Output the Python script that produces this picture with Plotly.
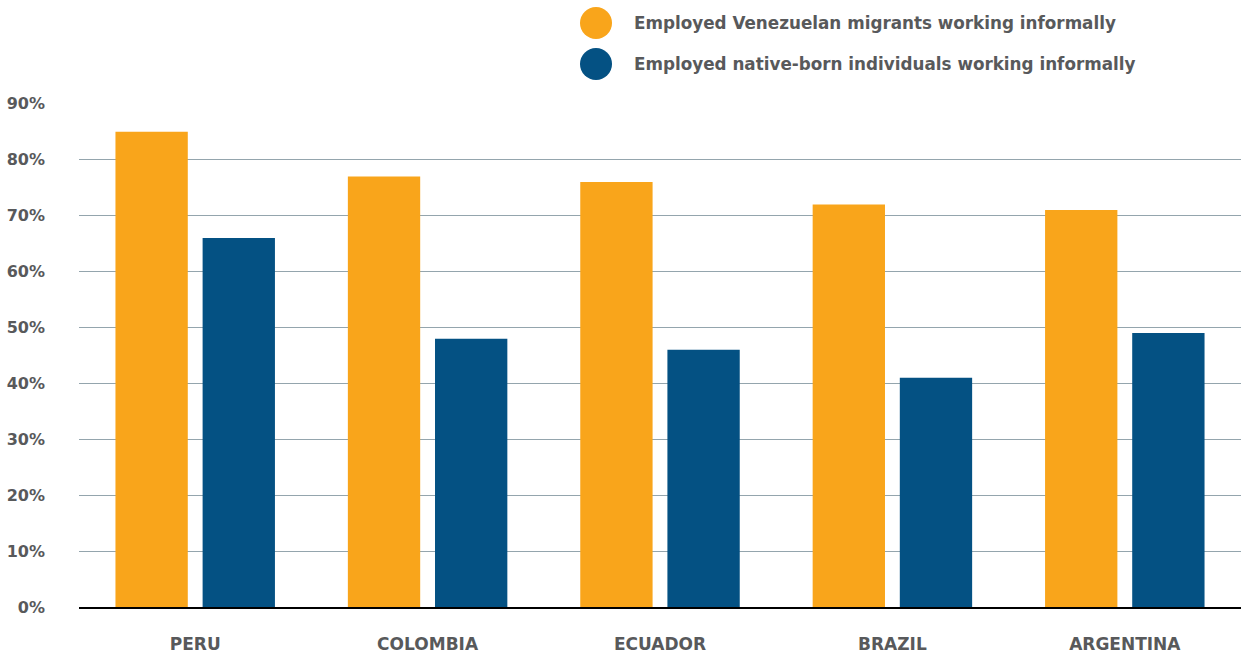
import plotly.graph_objects as go

countries = ["PERU", "COLOMBIA", "ECUADOR", "BRAZIL", "ARGENTINA"]
migrants = [85, 77, 76, 72, 71]
natives = [66, 48, 46, 41, 49]
series_names = ["Employed Venezuelan migrants working informally",
                "Employed native-born individuals working informally"]
colors = ["#F9A51B", "#045183"]
y_ticks = [0, 10, 20, 30, 40, 50, 60, 70, 80, 90]
y_labels = [f"{v}%" for v in y_ticks]

W, H = 1241, 656
FONT = "DejaVu Sans"
TXT = "#58595b"

fig = go.Figure()
fig.add_trace(go.Bar(x=countries, y=migrants, name=series_names[0],
                     marker=dict(color=colors[0], line=dict(width=0)), showlegend=False))
fig.add_trace(go.Bar(x=countries, y=natives, name=series_names[1],
                     marker=dict(color=colors[1], line=dict(width=0)), showlegend=False))

m_l, m_r, m_t, m_b = 79, 0, 103, 49
pw = W - m_l - m_r
ph = H - m_t - m_b

# legend drawn as circles + text
leg_y = [23, 64]
for i, name in enumerate(series_names):
    yp = 1 + (m_t - leg_y[i]) / ph
    xp = (596 - m_l) / pw
    fig.add_shape(type="circle", xref="paper", yref="paper",
                  xsizemode="pixel", ysizemode="pixel",
                  xanchor=xp, yanchor=yp, x0=-16, x1=16, y0=-16, y1=16,
                  fillcolor=colors[i], line=dict(width=0))
    fig.add_annotation(xref="paper", yref="paper", x=(632 - m_l) / pw, y=yp,
                       xanchor="left", yanchor="middle", showarrow=False,
                       text="<b>" + name + "</b>",
                       font=dict(family=FONT, size=16.8, color=TXT))

fig.update_layout(
    width=W, height=H,
    margin=dict(l=m_l, r=m_r, t=m_t, b=m_b),
    plot_bgcolor="white", paper_bgcolor="white",
    barmode="group", bargap=0.25, bargroupgap=0.17,
    font=dict(family=FONT, color=TXT),
)
fig.update_xaxes(tickfont=dict(family=FONT, size=17, color=TXT, weight="bold"),
                 ticks="", ticklabelstandoff=21, showgrid=False, automargin=False,
                 showline=True, linecolor="black", linewidth=1.5)
fig.update_yaxes(range=[0, 90.15], tickvals=y_ticks, ticktext=y_labels,
                 tickfont=dict(family=FONT, size=16, color=TXT, weight="bold"),
                 ticklabelstandoff=33, showgrid=True, gridcolor="#94a5ad", gridwidth=1.2,
                 zeroline=False, showline=False, automargin=False)

fig.write_html("out.html")
